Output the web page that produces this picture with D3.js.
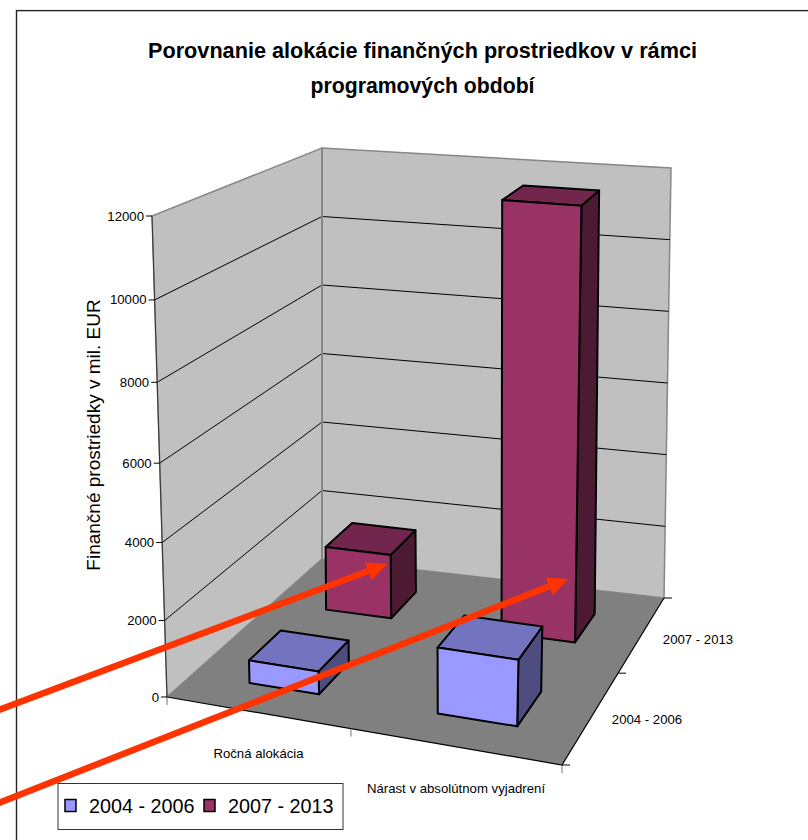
<!DOCTYPE html>
<html>
<head>
<meta charset="utf-8">
<script src="https://cdn.jsdelivr.net/npm/d3@7"></script>
<style>
  body { margin: 0; background: #fff; }
  text { font-family: "Liberation Sans", Arial, sans-serif; fill: #000; }
</style>
</head>
<body>
<svg id="chart" width="808" height="840"></svg>
<script>
// Chart data
const categories = ["Ročná alokácia", "Nárast v absolútnom vyjadrení"];
const seriesNames = ["2004 - 2006", "2007 - 2013"];
const values2004 = [600, 1700];
const values2007 = [1750, 11600];
const yTicks = [0, 2000, 4000, 6000, 8000, 10000, 12000];
const titleLines = [
  "Porovnanie alokácie finančných prostriedkov v rámci",
  "programových období",
];
const yTitle = "Finančné prostriedky v mil. EUR";

const seriesValues = [values2004, values2007];
const frontColors = ["#9999FF", "#993366"];
const topColors = ["#7373BF", "#73264D"];
const sideColors = ["#4D4D80", "#4D1A33"];

const svg = d3.select("#chart");

// Solve the homography taking the unit square onto a quad (Heckbert)
// quad order: (0,0) (1,0) (1,1) (0,1)
function squareToQuad(q) {
  const [[x0, y0], [x1, y1], [x2, y2], [x3, y3]] = q;
  const dx1 = x1 - x2, dx2 = x3 - x2, sx = x0 - x1 + x2 - x3;
  const dy1 = y1 - y2, dy2 = y3 - y2, sy = y0 - y1 + y2 - y3;
  const den = dx1 * dy2 - dx2 * dy1;
  const g = (sx * dy2 - dx2 * sy) / den;
  const h = (dx1 * sy - sx * dy1) / den;
  const a = x1 - x0 + g * x1, b = x3 - x0 + h * x3, c = x0;
  const d = y1 - y0 + g * y1, e = y3 - y0 + h * y3, f = y0;
  return (u, v) => {
    const w = g * u + h * v + 1;
    return [(a * u + b * v + c) / w, (d * u + e * v + f) / w];
  };
}

// Floor and ceiling of the 3D box as seen in the picture
const floorMap = squareToQuad([[167, 697], [562, 765], [664, 598], [322, 559]]);
const ceilMap = squareToQuad([[152, 216], [582, 262], [671, 168], [322, 148]]);

// x: 0..1 left to right, h: 0..1 floor to ceiling, z: 0..1 front to back
function project(x, h, z) {
  const f = floorMap(x, z), c = ceilMap(x, z);
  // vertical foreshortening, stronger near the viewer
  const r = 1 + 0.057 * (1 - z);
  const t = h / (h + (1 - h) * r);
  return [f[0] + (c[0] - f[0]) * t, f[1] + (c[1] - f[1]) * t];
}

const yScale = d3.scaleLinear().domain([0, 12000]).range([0, 1]);
const xScale = d3.scaleBand().domain(categories).range([0.01, 1.01]).paddingInner(0.615).paddingOuter(0.3075);
const zScale = d3.scaleBand().domain(seriesNames).range([-0.008, 0.992]).paddingInner(0.61).paddingOuter(0.305);

const line = d3.line();
const poly = (pts) => line(pts) + "Z";

// Frame
svg.append("rect")
  .attr("x", 16.5).attr("y", 10.6)
  .attr("width", 800).attr("height", 840)
  .attr("fill", "#fff").attr("stroke", "#222").attr("stroke-width", 1.4);

// Walls and floor
const wallEdge = "#868686";
const wallGrp = svg.append("g");
wallGrp.append("path")
  .attr("d", poly([project(0, 0, 0), project(0, 0, 1), project(0, 1, 1), project(0, 1, 0)]))
  .attr("fill", "#C0C0C0").attr("stroke", wallEdge).attr("stroke-width", 1.5);
wallGrp.append("path")
  .attr("d", poly([project(0, 0, 1), project(1, 0, 1), project(1, 1, 1), project(0, 1, 1)]))
  .attr("fill", "#C0C0C0").attr("stroke", wallEdge).attr("stroke-width", 1.5);
wallGrp.append("path")
  .attr("d", poly([project(0, 0, 0), project(1, 0, 0), project(1, 0, 1), project(0, 0, 1)]))
  .attr("fill", "#808080");

// Gridlines on both walls
yTicks.filter((t) => t > 0 && t < 12000).forEach((t) => {
  const h = yScale(t);
  svg.append("path")
    .attr("d", line([project(0, h, 0), project(0, h, 1), project(1, h, 1)]))
    .attr("fill", "none").attr("stroke", "#000").attr("stroke-width", 1);
});

// Axis lines
svg.append("path")
  .attr("d", line([project(0, 0, 0), project(0, 1, 0)]))
  .attr("fill", "none").attr("stroke", "#333").attr("stroke-width", 1);
svg.append("path")
  .attr("d", line([project(0, 0, 1), project(0, 1, 1)]))
  .attr("fill", "none").attr("stroke", wallEdge).attr("stroke-width", 2);
svg.append("path")
  .attr("d", line([project(0, 0, 0), project(1, 0, 0), project(1, 0, 1)]))
  .attr("fill", "none").attr("stroke", "#000").attr("stroke-width", 1.2);

// Value axis ticks and labels
yTicks.forEach((t) => {
  const p = project(0, yScale(t), 0);
  svg.append("line")
    .attr("x1", p[0] - 6).attr("x2", p[0]).attr("y1", p[1]).attr("y2", p[1])
    .attr("stroke", "#000");
  svg.append("text")
    .attr("x", p[0] - 8).attr("y", p[1] + 4.5)
    .attr("text-anchor", "end").attr("font-size", 13.2)
    .text(t);
});

// Category ticks along the front edge
[0, 0.5, 1].forEach((u) => {
  const p = project(u, 0, 0);
  svg.append("line")
    .attr("x1", p[0]).attr("x2", p[0]).attr("y1", p[1]).attr("y2", p[1] + 8)
    .attr("stroke", "#777").attr("stroke-width", 1);
});

// Depth ticks along the right edge
[0, 0.5, 1].forEach((u) => {
  const p = project(1, 0, u);
  svg.append("line")
    .attr("x1", p[0]).attr("x2", p[0] + 8).attr("y1", p[1]).attr("y2", p[1])
    .attr("stroke", "#000").attr("stroke-width", 1);
});

// Category and series labels
svg.selectAll(".cat-label")
  .data(categories)
  .join("text")
  .attr("class", "cat-label")
  .attr("font-size", 13.2)
  .attr("text-anchor", "middle")
  .attr("x", (d, i) => [258.5, 456][i])
  .attr("y", (d, i) => [757.5, 792.5][i])
  .text((d) => d);

svg.selectAll(".series-label")
  .data(seriesNames)
  .join("text")
  .attr("class", "series-label")
  .attr("font-size", 13.2)
  .attr("text-anchor", "middle")
  .attr("x", (d, i) => [647, 698][i])
  .attr("y", (d, i) => [724, 644][i])
  .text((d) => d);

// Bars, back row first so nearer boxes paint over farther ones
function drawBox(x0, x1, z0, z1, h, s) {
  const g = svg.append("g").attr("stroke", "#000").attr("stroke-width", 2).attr("stroke-linejoin", "round");
  g.append("path")
    .attr("d", poly([project(x1, 0, z0), project(x1, 0, z1), project(x1, h, z1), project(x1, h, z0)]))
    .attr("fill", sideColors[s]);
  g.append("path")
    .attr("d", poly([project(x0, h, z0), project(x1, h, z0), project(x1, h, z1), project(x0, h, z1)]))
    .attr("fill", topColors[s]);
  g.append("path")
    .attr("d", poly([project(x0, 0, z0), project(x1, 0, z0), project(x1, h, z0), project(x0, h, z0)]))
    .attr("fill", frontColors[s]);
}

[1, 0].forEach((s) => {
  categories.forEach((c, i) => {
    const x0 = xScale(c), x1 = x0 + xScale.bandwidth();
    const z0 = zScale(seriesNames[s]), z1 = z0 + zScale.bandwidth();
    drawBox(x0, x1, z0, z1, yScale(seriesValues[s][i]), s);
  });
});

// Title
svg.selectAll(".title")
  .data(titleLines)
  .join("text")
  .attr("class", "title")
  .attr("x", 422.5)
  .attr("y", (d, i) => 57.5 + i * 35)
  .attr("text-anchor", "middle")
  .attr("font-size", 22)
  .attr("font-weight", "bold")
  .attr("textLength", (d, i) => [549, 224][i])
  .attr("lengthAdjust", "spacingAndGlyphs")
  .text((d) => d);

// Value axis title
svg.append("text")
  .attr("transform", "translate(100,435) rotate(-90)")
  .attr("text-anchor", "middle")
  .attr("font-size", 19)
  .text(yTitle);

// Legend
const legend = svg.append("g");
legend.append("rect")
  .attr("x", 58).attr("y", 783.5).attr("width", 285).attr("height", 46)
  .attr("fill", "#fff").attr("stroke", "#333");
seriesNames.forEach((name, i) => {
  const lx = [65, 204][i];
  legend.append("rect")
    .attr("x", lx).attr("y", 799.5).attr("width", 11).attr("height", 12)
    .attr("fill", frontColors[i]).attr("stroke", "#000").attr("stroke-width", 1.5);
  legend.append("text")
    .attr("x", lx + 24).attr("y", 812.5)
    .attr("font-size", 19.8)
    .text(name);
});

// Red annotation arrows pointing at the 2007 - 2013 bars
function drawArrow(x0, y0, x1, y1) {
  const a = Math.atan2(y1 - y0, x1 - x0);
  const len = 20, wid = 9.5;
  const bx = x1 - len * Math.cos(a), by = y1 - len * Math.sin(a);
  const nx = -Math.sin(a), ny = Math.cos(a);
  svg.append("line")
    .attr("x1", x0).attr("y1", y0).attr("x2", bx).attr("y2", by)
    .attr("stroke", "#FF3300").attr("stroke-width", 6.5);
  svg.append("path")
    .attr("d", poly([[x1, y1], [bx + nx * wid, by + ny * wid], [bx - nx * wid, by - ny * wid]]))
    .attr("fill", "#FF3300");
}
drawArrow(-4, 711, 387, 564);
drawArrow(-4, 804, 568, 579);
</script>
</body>
</html>
